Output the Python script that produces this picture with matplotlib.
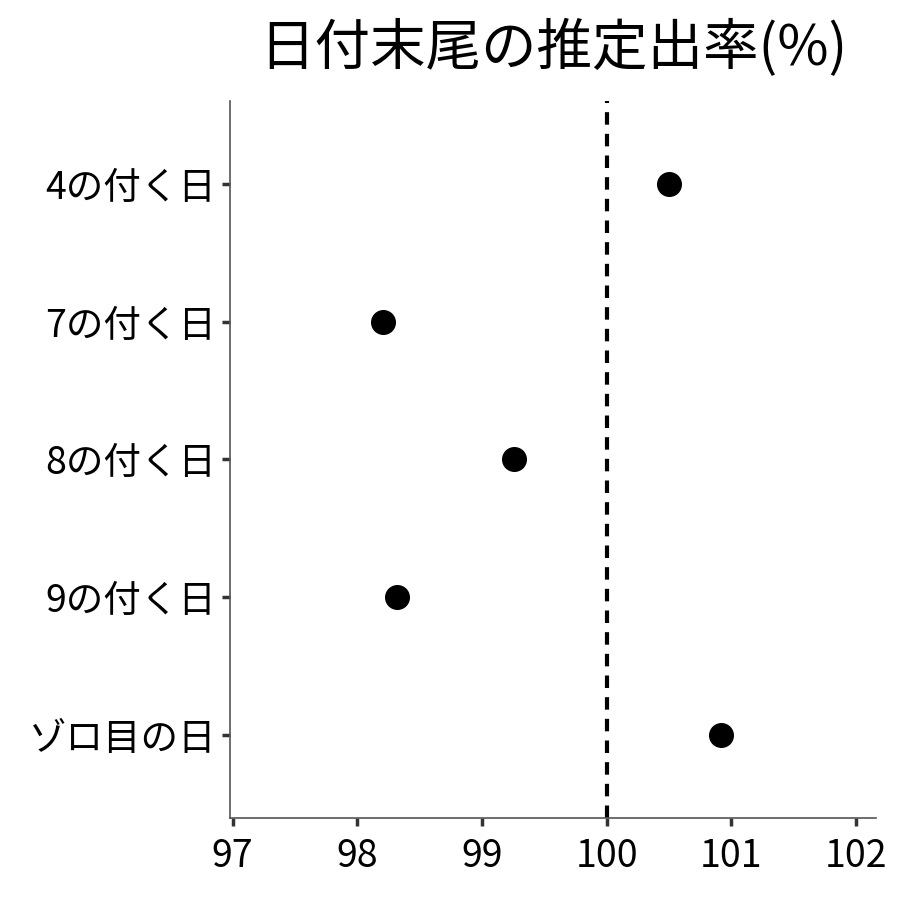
import matplotlib
matplotlib.use('Agg')
import matplotlib.pyplot as plt

plt.rcParams['font.family'] = ['Noto Sans CJK JP', 'DejaVu Sans']

# データ（上から順）
labels = ['4の付く日', '7の付く日', '8の付く日', '9の付く日', 'ゾロ目の日']
rates = [100.5, 98.21, 99.26, 98.32, 100.92]
xticks = [97, 98, 99, 100, 101, 102]

fig = plt.figure(figsize=(9, 9), dpi=100)
ax = fig.add_axes([0.2556, 0.0911, 0.7177, 0.7967])

ypos = list(range(len(labels), 0, -1))
ax.plot(rates, ypos, 'o', color='black', markersize=17, zorder=3)
ax.axvline(100, color='black', linestyle=(0, (3, 2.2)), linewidth=3, zorder=2)

ax.set_xlim(96.98, 102.16)
ax.set_ylim(0.4, 5.6)
ax.set_xticks(xticks)
ax.set_xticklabels([str(t) for t in xticks])
ax.set_yticks(ypos)
ax.set_yticklabels(labels)

for s in ['top', 'right']:
    ax.spines[s].set_visible(False)
for s in ['left', 'bottom']:
    ax.spines[s].set_color('#555555')
    ax.spines[s].set_linewidth(1.2)
ax.tick_params(axis='both', labelsize=27, length=6, width=2.5, color='#333333', labelcolor='black', pad=4)
ax.tick_params(axis='x', pad=8)

ax.set_title('日付末尾の推定出率(%)', fontsize=40, pad=26)

fig.savefig('out.png', dpi=100)
